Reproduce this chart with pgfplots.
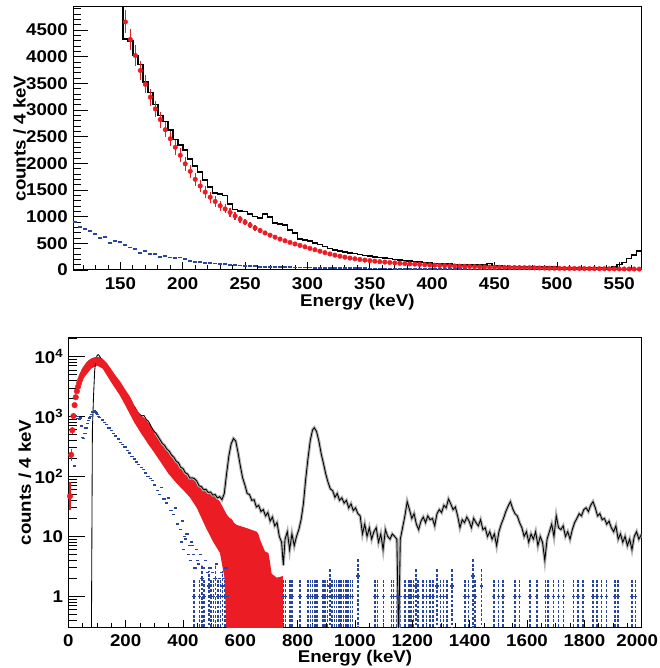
\documentclass[border=0pt]{standalone}
\usepackage{fontspec}
\setmainfont{Liberation Sans}[FakeStretch=1.1]
\usepackage{pgfplots}
\usepackage{pgfplotstable}
\pgfplotsset{compat=1.18}
\definecolor{rred}{RGB}{236,28,36}
\definecolor{rblue}{RGB}{40,70,160}
\newcommand{\lbl}{\fontsize{17}{20}\selectfont\bfseries}

\pgfplotstableread{
x y e
154 4650 215
158 4320 200
162 4020 190
166 3740 180
170 3480 170
174 3240 160
178 3020 155
182 2820 150
186 2630 145
190 2460 140
194 2300 137
198 2150 135
202 1990 130
206 1850 125
210 1700 120
214 1575 115
218 1460 110
222 1365 105
226 1285 100
230 1205 92
234 1145 85
238 1078 78
242 1013 72
246 950 66
250 895 60
254 840 55
258 788 50
262 740 46
266 694 42
270 652 38
274 615 34
278 580 31
282 548 28
286 517 26
290 488 24
294 460 22
298 434 20
302 405 19
306 380 18
310 352 17
314 325 16
318 300 15
322 278 14
326 258 13
330 240 12
334 224 11
338 210 10
342 197 10
346 185 9
350 175 9
354 165 8
358 156 8
362 148 8
366 140 7
370 133 7
374 126 7
378 120 6
382 114 6
386 109 6
390 104 6
394 99 5
398 94 5
402 90 5
406 86 5
410 82 5
414 78 4
418 75 4
422 71 4
426 68 4
430 65 4
434 62 4
438 59 4
442 57 4
446 55 3
450 53 3
454 51 3
458 49 3
462 47 3
466 46 3
470 45 3
474 44 3
478 42 3
482 40 3
486 38 3
490 36 3
494 35 3
498 33 3
502 31 3
506 30 3
510 29 3
514 28 3
518 27 3
522 26 3
526 25 3
530 25 3
534 24 3
538 23 3
542 22 3
546 21 3
550 20 3
554 19 3
558 18 3
562 18 3
566 17 3
}\redtop

\pgfplotstableread{
x y
112 8000
152 4330
156 4290
160 4020
164 3850
168 3520
172 3330
176 3100
180 2900
184 2780
188 2620
192 2450
196 2340
200 2250
204 2080
208 1950
212 1840
216 1690
220 1560
224 1440
228 1420
232 1400
236 1240
240 1130
244 1110
248 1095
252 1050
256 1000
260 970
264 1045
268 990
272 880
276 860
280 840
284 750
288 690
292 580
296 565
300 540
304 510
308 480
312 440
316 400
320 375
324 360
328 335
332 320
336 305
340 295
344 270
348 262
352 245
356 235
360 222
364 215
368 195
372 187
376 178
380 172
384 160
388 152
392 140
396 135
400 126
404 122
408 114
412 110
416 105
420 102
424 96
428 93
432 92
436 100
440 96
444 118
448 80
452 74
456 68
460 64
464 62
468 63
472 60
476 61
480 58
484 56
488 55
492 53
496 52
500 50
504 49
508 48
512 46
516 45
520 44
524 44
528 43
532 43
536 44
540 46
544 52
548 106
552 144
556 219
560 281
564 360
568 360
}\blacktop

\pgfplotstableread{
x y
114 906
118 812
122 762
126 737
130 681
134 594
138 625
142 512
146 550
150 531
154 469
158 419
162 394
166 325
170 356
174 300
178 300
182 250
186 262
190 237
194 231
198 237
202 206
206 175
210 156
214 144
218 137
222 125
226 119
230 112
234 106
238 94
242 94
246 87
250 81
254 75
258 69
262 62
266 62
270 56
274 55
278 53
282 52
286 50
290 48
294 47
298 46
302 44
306 43
310 42
314 40
318 39
322 38
326 37
330 36
334 34
338 33
342 32
346 31
350 30
354 29
358 28
362 27
366 26
370 25
374 24
378 23
382 22
386 21
390 20
394 19
398 18
402 17
406 16
410 16
414 15
418 14
422 13
426 13
430 12
434 11
438 10
442 10
446 9
450 9
}\bluetop

\pgfplotstableread{
x y ep em
6 47 33 19
10 230 60 50
14 590 90 80
18 1020 80 80
22 1550 80 80
26 2100 80 80
30 2650 80 80
34 3150 80 80
38 3650 80 80
42 4150 80 80
46 4650 80 80
50 5150 80 80
54 5650 80 80
58 6100 80 80
62 6550 80 80
66 6950 80 80
70 7350 80 80
74 7700 80 80
78 8000 80 80
82 8250 80 80
86 8450 80 80
90 8600 80 80
94 8700 80 80
98 8750 80 80
102 8700 80 80
106 8550 80 80
110 8350 80 80
114 8100 80 80
118 7800 80 80
122 7450 80 80
126 7100 80 80
130 6750 80 80
134 6400 80 80
138 6050 80 80
142 5700 80 80
146 5350 80 80
150 5000 80 80
}\redlow

\pgfplotstableread{
x y
76 0.05
80 0.05
84 600
88 2200
92 5800
96 8900
100 10300
104 10800
108 10400
112 9600
116 8900
120 8200
128 7000
136 5900
144 5200
152 4550
160 4000
168 3450
176 3000
184 2700
192 2450
200 2200
208 1950
216 1700
224 1470
232 1410
240 1180
248 1100
256 1030
264 1040
272 900
280 830
288 700
296 600
304 540
312 470
320 410
328 355
336 330
344 285
352 265
360 228
368 210
376 180
384 170
392 142
400 136
408 115
416 110
424 94
432 95
440 92
448 84
456 70
464 68
472 60
480 61
488 54
496 55
504 49
512 50
520 44
528 46
536 41
544 52
552 110
560 220
568 350
576 430
584 390
592 250
600 150
608 95
616 72
624 52
632 50
640 40
648 41
656 31
664 33
672 26
680 28
688 22
696 25
704 18
712 21
720 15
728 17
736 10
744 8
750 3.3
756 9
764 12
772 6
780 11
788 7
796 10
804 13
812 19
820 35
828 90
836 200
844 400
852 600
858 650
866 560
874 390
882 240
890 165
898 110
906 80
914 62
922 58
930 45
938 52
946 40
954 44
962 36
970 40
978 30
986 35
994 27
1002 30
1010 24
1018 22
1026 11
1034 16
1042 10
1050 14
1058 9
1066 12
1074 14
1082 8
1090 11
1098 6
1106 13
1114 10
1122 9
1130 11
1138 10
1146 9
1152 0.2
1158 9
1166 14
1174 22
1182 38
1190 28
1198 20
1206 24
1214 16
1222 13
1230 18
1238 21
1246 17
1254 22
1262 19
1270 20
1278 15
1286 24
1294 28
1302 25
1310 33
1318 30
1326 42
1334 35
1342 28
1350 31
1358 22
1366 14
1374 19
1382 17
1390 21
1398 18
1406 14
1414 20
1422 17
1430 15
1438 19
1446 13
1454 14
1462 10
1470 12
1478 9
1486 11
1494 7
1502 12
1510 16
1518 20
1526 26
1534 32
1542 38
1550 29
1558 24
1566 22
1574 17
1582 14
1590 10
1598 12
1606 8
1614 11
1622 9
1630 12
1638 7
1646 10
1654 8
1662 4
1670 9
1678 12
1686 16
1694 10
1702 22
1710 14
1718 13
1726 15
1734 10
1742 12
1750 9
1758 13
1766 17
1774 20
1782 24
1790 22
1798 28
1806 30
1814 26
1822 33
1830 38
1838 30
1846 22
1854 24
1862 19
1870 20
1878 16
1886 18
1894 14
1902 12
1910 15
1918 9
1926 11
1934 8
1942 10
1950 7
1958 9
1966 6
1974 10
1982 12
1990 9
2000 11
}\blackbot

\pgfplotstableread{
x y
22 150
26 1050
30 1000
34 930
38 900
42 940
46 700
50 450
54 430
58 520
62 650
66 770
70 860
74 940
78 1000
82 1080
86 1180
90 1260
94 1220
98 1150
102 1080
106 1000
110 960
118 880
126 800
134 740
142 650
150 580
158 520
166 470
174 420
182 370
190 340
198 310
206 270
214 245
222 215
230 195
238 175
246 160
254 140
262 130
270 115
278 100
286 92
294 85
302 72
310 58
318 50
326 66
334 42
342 36
350 44
358 27
366 23
374 30
382 16
390 13
398 18
406 10
414 11
422 7
430 8
438 5
446 6
454 3.5
394 8
402 6
410 9
418 5
426 4
434 7
442 3
450 4
462 5
470 3
478 4
486 2.5
494 3
502 2.5
510 2
518 3.5
526 2
534 2.5
542 2
550 3
}\bluelow

\pgfplotstableread{
x y ep em
438 1 1 0.95
458 1 1 0.95
466 2 1.4 1.95
474 1 1 0.95
490 1.5 1.2 1.45
498 1 1 0.95
506 1 1 0.95
514 2 1.4 1.95
522 1 1 0.95
530 1 1 0.95
538 1.5 1.2 1.45
546 1 1 0.95
554 1 1 0.95
750 1 1 0.95
758 1 1 0.95
774 1 1 0.95
780 1 1 0.95
808 1 1 0.95
836 1 1 0.95
844 1 1 0.95
852 1 1 0.95
860 1 1 0.95
868 1 1 0.95
888 1 1 0.95
896 1 1 0.95
904 1 1 0.95
912 1.5 1.45 1.45
920 1 1 0.95
928 1 1 0.95
936 1 1 0.95
944 1 1 0.95
952 1 1 0.95
960 1 1 0.95
968 1 1 0.95
976 1 1 0.95
984 1 1 0.95
992 1 1 0.95
1010 2.2 2.2 2.15
1070 1 1 0.95
1078 1 1 0.95
1100 1 1 0.95
1128 1 1 0.95
1134 1 1 0.95
1146 1 1 0.95
1158 1 1 0.95
1174 1 1 0.95
1188 1 1 0.95
1196 1 1 0.95
1204 1 1 0.95
1212 1.5 1.45 1.45
1220 1 1 0.95
1238 1 1 0.95
1250 1 1 0.95
1262 1 1 0.95
1272 1 1 0.95
1286 1.5 1.45 1.45
1298 1 1 0.95
1308 1 1 0.95
1320 1 1 0.95
1338 1.5 1.45 1.45
1384 1 1 0.95
1396 1 1 0.95
1412 2.2 2.2 2.15
1418 1 1 0.95
1442 1.5 1.45 1.45
1484 1 1 0.95
1500 1 1 0.95
1516 1 1 0.95
1558 1 1 0.95
1574 1 1 0.95
1610 1 1 0.95
1634 1 1 0.95
1664 1 1 0.95
1674 1 1 0.95
1692 1 1 0.95
1710 1 1 0.95
1728 1 1 0.95
1762 1 1 0.95
1778 1 1 0.95
1796 1 1 0.95
1830 1 1 0.95
1844 1 1 0.95
1860 1 1 0.95
1878 1 1 0.95
1906 1 1 0.95
1918 1 1 0.95
1966 1 1 0.95
1978 1 1 0.95
}\bluesparse

\pgfplotsset{rootax/.style={
  scale only axis, anchor=south west,
  axis line style={line width=1pt},
  tick align=inside, xtick pos=left, ytick pos=left,
  tick style={black, line width=0.8pt},
  tick label style={font=\lbl},
  label style={font=\lbl},
  /pgf/number format/assume math mode=true,
  /pgf/number format/1000 sep={},
  xticklabel style={inner sep=0pt, yshift=-7pt},
  yticklabel style={inner sep=0pt, xshift=-5pt},
}}

\begin{document}
\begin{tikzpicture}
\useasboundingbox (0,0) rectangle (659pt,668pt);
% ---------------- top panel
\begin{axis}[rootax, at={(73pt,398pt)}, width=568.7pt, height=263pt,
  xmin=112, xmax=568, ymin=0, ymax=4930,
  xtick={100,150,...,600}, minor x tick num=4,
  ytick={0,500,...,5000}, minor y tick num=4,
  xtick style={/pgfplots/major tick length=8pt,/pgfplots/minor tick length=4.5pt},
  ytick style={/pgfplots/major tick length=15pt,/pgfplots/minor tick length=7.5pt},
  xlabel={Energy (keV)}, ylabel={counts / 4 keV},
  xlabel style={at={(axis description cs:0.5,-0.1217)},anchor=center},
  ylabel style={at={(axis description cs:-0.094,0.5)},anchor=center}]
\addplot[rblue, only marks, mark=-, mark size=2pt, mark options={line width=1.7pt}] table[x=x,y=y] {\bluetop};
\addplot[black, line width=1.5pt, const plot mark left] table[x=x,y=y] {\blacktop};
\addplot[rred, only marks, mark=*, mark size=2.3pt,
  error bars/.cd, y dir=both, y explicit, error mark=none,
  error bar style={line width=1.3pt, rred}] table[x=x,y=y,y error=e] {\redtop};
\end{axis}
% ---------------- bottom panel
\begin{axis}[rootax, at={(68.3pt,40.3pt)}, width=573.4pt, height=290.4pt,
  xmin=0, xmax=2000, ymode=log, ymin=0.3, ymax=21000,
  xtick={0,200,...,2000}, minor x tick num=3,
  xticklabels={0,200,400,600,800,1000,1200,1400,1600,1800,\hspace*{-9pt}2000},
  ytick={1,10,100,1000,10000},
  yticklabels={1,10,10\textsuperscript{2},10\textsuperscript{3},10\textsuperscript{4}},
  minor ytick={0.4,0.5,0.6,0.7,0.8,0.9,2,3,4,5,6,7,8,9,20,30,40,50,60,70,80,90,200,300,400,500,600,700,800,900,2000,3000,4000,5000,6000,7000,8000,9000,20000},
  xtick style={/pgfplots/major tick length=8pt,/pgfplots/minor tick length=5pt},
  ytick style={/pgfplots/major tick length=17pt,/pgfplots/minor tick length=8.5pt},
  xlabel={Energy (keV)}, ylabel={counts / 4 keV},
  xlabel style={at={(axis description cs:0.5,-0.1043)},anchor=center},
  ylabel style={at={(axis description cs:-0.0755,0.5)},anchor=center}]
\addplot[rblue, only marks, mark=-, mark size=1.6pt, mark options={line width=1.5pt}] table[x=x,y=y] {\bluelow};
\addplot[rblue, only marks, mark=-, mark size=1.7pt, mark options={line width=1.5pt},
  error bars/.cd, y dir=both, y explicit, error mark=none,
  error bar style={line width=1.5pt, rblue, dash pattern=on 2.8pt off 1.8pt}]
  table[x=x,y=y,y error plus=ep,y error minus=em] {\bluesparse};
\addplot[fill=rred, draw=none] coordinates {
(56,6200) (60,7000) (70,8200) (80,9000) (90,9600) (100,9900) (110,9700) (120,9200)
(135,7800) (150,6000) (165,4800) (180,3900) (200,2750) (215,2150) (230,1550) (250,1080)
(265,950) (280,790) (300,570) (320,400) (350,255) (380,165) (400,128) (424,100) (448,80)
(480,58) (506,49) (529,38) (553,23) (570,18) (588,15.5) (622,13.8) (657,12) (663,11)
(669,8.8) (686,5.6) (698,5.3) (704,3.6) (709,2.4) (727,2.05) (744,2.15) (748,2.2)
(748,0.1) (555,0.1) (545,2) (529,5.3) (506,8) (480,14) (448,30) (424,45) (400,60)
(380,75) (350,110) (320,180) (300,250) (280,340) (250,560) (230,800) (200,1500)
(180,2250) (150,3700) (120,6300) (100,7100) (80,6300) (60,4800) (56,4500)};
\addplot[rred, only marks, mark=*, mark size=2.8pt,
  error bars/.cd, y dir=both, y explicit, error mark=none,
  error bar style={line width=1.3pt, rred}]
  table[x=x,y=y,y error plus=ep,y error minus=em] {\redlow};
\addplot[rred, only marks, mark=*, mark size=2.8pt] table[x=x,y=y] {\redtop};
\addplot[gray!60, line width=3pt, restrict x to domain=300:2000] table[x=x,y=y] {\blackbot};
\addplot[black, line width=0.85pt] table[x=x,y=y] {\blackbot};
\end{axis}
\end{tikzpicture}
\end{document}
